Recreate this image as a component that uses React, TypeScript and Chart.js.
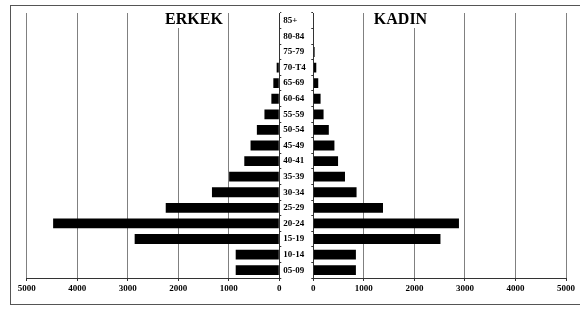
import React, { useEffect, useRef } from "react";
import { Chart, registerables } from "chart.js";

Chart.register(...registerables);

const ageGroups = ["85+", "80-84", "75-79", "70-T4", "65-69", "60-64", "55-59", "50-54", "45-49", "40-41", "35-39", "30-34", "25-29", "20-24", "15-19", "10-14", "05-09"];
const maleValues = [0, 0, 0, 52, 118, 157, 294, 444, 569, 693, 993, 1333, 2248, 4477, 2863, 863, 863];
const femaleValues = [0, 0, 26, 59, 98, 144, 203, 307, 418, 490, 627, 856, 1379, 2882, 2516, 843, 843];
const axisMax = 5000;
const axisStep = 1000;
const leftTitle = "ERKEK";
const rightTitle = "KADIN";

const FONT = "'Liberation Serif', 'Times New Roman', serif";

const titlePlugin = {
  id: "panelTitle",
  afterDatasetsDraw(chart: any, _args: any, opts: any) {
    const { ctx } = chart;
    ctx.save();
    ctx.font = `bold 16px ${FONT}`;
    const w = ctx.measureText(opts.text).width;
    const x = opts.x;
    const y = opts.y;
    ctx.fillStyle = "#fff";
    ctx.fillRect(x - w / 2 - 1, y - 8, w + 2, 16);
    ctx.fillStyle = "#000";
    ctx.textAlign = "center";
    ctx.textBaseline = "middle";
    ctx.fillText(opts.text, x, y);
    ctx.restore();
  },
};

function makeConfig(side: "left" | "right"): any {
  const isLeft = side === "left";
  return {
    type: "bar",
    data: {
      labels: ageGroups,
      datasets: [
        {
          data: isLeft ? maleValues : femaleValues,
          backgroundColor: "#000",
          borderWidth: 0,
          barPercentage: 0.63,
          categoryPercentage: 1,
        },
      ],
    },
    plugins: [titlePlugin],
    options: {
      indexAxis: "y",
      animation: false,
      responsive: false,
      maintainAspectRatio: false,
      layout: {
        padding: isLeft
          ? { left: 16.7, top: 8, right: 0, bottom: 0 }
          : { left: 0, top: 8, right: 10.3, bottom: 0 },
      },
      plugins: {
        legend: { display: false },
        tooltip: { enabled: false },
        title: { display: false },
        panelTitle: isLeft ? { text: leftTitle, x: 184, y: 15 } : { text: rightTitle, x: 91.5, y: 15 },
      },
      scales: {
        x: {
          type: "linear",
          min: 0,
          max: axisMax,
          reverse: isLeft,
          afterFit: (s: any) => {
            s.height = 27;
          },
          ticks: {
            stepSize: axisStep,
            color: "#000",
            padding: 2,
            maxRotation: 0,
            callback: (v: any) => String(v),
            font: { family: FONT, size: 9, weight: "bold" },
          },
          grid: {
            color: "#808080",
            lineWidth: 1,
            tickLength: 3,
            tickColor: "#333",
          },
          border: { color: "#333", width: 1 },
        },
        y: {
          type: "category",
          position: isLeft ? "right" : "left",
          afterFit: (s: any) => {
            s.width = isLeft ? 29.7 : 4.3;
          },
          ticks: {
            display: isLeft,
            color: "#000",
            padding: 2,
            crossAlign: "near",
            font: { family: FONT, size: 9, weight: "bold" },
          },
          grid: {
            display: true,
            drawOnChartArea: false,
            tickLength: 2,
            color: "#333",
            offset: true,
          },
          border: { color: "#333", width: 1 },
        },
      },
    },
  };
}

export default function App() {
  const leftRef = useRef<HTMLCanvasElement>(null);
  const rightRef = useRef<HTMLCanvasElement>(null);

  useEffect(() => {
    document.body.style.overflow = "hidden";
    const l = new Chart(leftRef.current as HTMLCanvasElement, makeConfig("left"));
    const r = new Chart(rightRef.current as HTMLCanvasElement, makeConfig("right"));
    return () => {
      l.destroy();
      r.destroy();
    };
  }, []);

  return (
    <div style={{ position: "absolute", left: 0, top: 0, width: 580, height: 309, background: "#fff", overflow: "hidden" }}>
      <div
        style={{
          position: "absolute",
          left: 9.5,
          top: 4.5,
          width: 580,
          height: 300,
          borderTop: "1px solid #555",
          borderLeft: "1px solid #555",
          borderBottom: "1px solid #555",
          borderRight: "none",
          boxSizing: "border-box",
        }}
      />
      <canvas
        ref={leftRef}
        width={299}
        height={300}
        style={{ position: "absolute", left: 10, top: 5, width: 299, height: 300 }}
      />
      <canvas
        ref={rightRef}
        width={268}
        height={300}
        style={{ position: "absolute", left: 309, top: 5, width: 268, height: 300 }}
      />
    </div>
  );
}
